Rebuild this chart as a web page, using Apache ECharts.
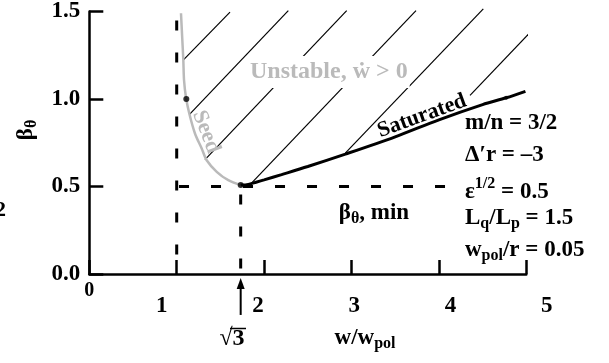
<!DOCTYPE html>
<html><head><meta charset="utf-8">
<script src="https://cdn.jsdelivr.net/npm/echarts@6/dist/echarts.min.js"></script>
<style>html,body{margin:0;padding:0;background:#fff}#c{width:609px;height:363px}</style>
</head><body><div id="c"></div>
<script>
// ---- data ----
const xTickLabels = ['1', '2', '3', '4', '5'];
const xZeroLabel = '0';
const yTicks = [0, 0.5, 1.0, 1.5];
const sqrt3 = 1.732;
const seedCurve = [[1.049,1.49],[1.062,1.36],[1.076,1.22],[1.084,1.107],[1.106,1.01],[1.144,0.917],[1.209,0.803],[1.286,0.717],[1.343,0.650],[1.458,0.584],[1.590,0.536],[1.732,0.508]];
const saturatedCurve = [[1.732,0.508],[1.82,0.512],[2.0,0.538],[2.2,0.568],[2.5,0.614],[2.93,0.685],[3.5,0.784],[4.0,0.881],[4.5,0.968],[4.77,1.007],[4.99,1.044]];
const seedDots = [[1.11,1.0],[1.732,0.508]];
const saturatedDots = [[4.77,1.007]];
const hatchSegments = [
  [[1.08,1.225],[1.610,1.496]],
  [[1.144,0.911],[2.277,1.505]],
  [[1.324,0.654],[2.945,1.505]],
  [[1.856,0.519],[3.738,1.505]],
  [[2.926,0.689],[4.508,1.515]],
  [[4.356,1.021],[5.137,1.430]]
];
const dashX1 = [[1,1.449],[1,0]];
const dashBetaMin = [[4.07,0.5],[1,0.5]];
const dashSqrt3 = [[sqrt3,0.5],[sqrt3,0]];
const arrowSqrt3 = [[sqrt3,-0.234],[sqrt3,-0.023]];
const annotations = [
  '{m|m/n = 3/2}',
  '{m|\u0394\u2032r = \u20133}',
  '{m|\u03b5}{sup|1/2}{m| = 0.5}',
  '{m|L}{sub|q}{m|/L}{sub|p}{m| = 1.5}',
  '{m|w}{sub|pol}{m|/r = 0.05}'
];

const FONT = '"Liberation Serif","DejaVu Serif",serif';
const GRAY = '#bababa';
const richStyles = {
  m:   {fontFamily: FONT, fontWeight: 'bold', fontSize: 23, lineHeight: 24, verticalAlign: 'top', fill: '#000', color:'#000'},
  sub: {fontFamily: FONT, fontWeight: 'bold', fontSize: 16, lineHeight: 16, verticalAlign: 'top', padding: [9,0,0,0], fill: '#000', color:'#000'},
  sup: {fontFamily: FONT, fontWeight: 'bold', fontSize: 16, lineHeight: 16, verticalAlign: 'top', fill: '#000', color:'#000'}
};
const richMain = Object.assign({}, richStyles, {m: Object.assign({}, richStyles.m, {padding:[5,0,0,0]})});

const chart = echarts.init(document.getElementById('c'), null, {renderer: 'canvas'});

const series = [];
hatchSegments.forEach(seg => series.push({
  type: 'line', data: seg, symbol: 'none', clip: false, silent: true, z: 1,
  lineStyle: {color: '#000', width: 1.2}
}));
const dashStyle = {color: '#000', width: 3, type: [10, 22]};
series.push({type: 'line', data: dashX1, symbol: 'none', clip: false, z: 2, lineStyle: dashStyle});
series.push({type: 'line', data: dashBetaMin, symbol: 'none', clip: false, z: 2, lineStyle: dashStyle});
series.push({type: 'line', data: dashSqrt3, symbol: 'none', clip: false, z: 2,
  lineStyle: Object.assign({}, dashStyle, {dashOffset: 24})});
series.push({type: 'line', data: seedCurve, symbol: 'none', smooth: 0.3, clip: false, z: 3,
  lineStyle: {color: GRAY, width: 2.5}});
series.push({type: 'line', data: saturatedCurve, symbol: 'none', smooth: 0.3, clip: false, z: 4,
  lineStyle: {color: '#000', width: 3}});
series.push({type: 'scatter', data: seedDots, symbolSize: 6, itemStyle: {color: '#000'}, z: 5, clip: false});
series.push({type: 'scatter', data: saturatedDots, symbolSize: 4, itemStyle: {color: '#000'}, z: 5, clip: false});

const axisLine = {show: true, lineStyle: {color: '#000', width: 2.5}};
const axisTick = {show: true, inside: true, length: 14, lineStyle: {color: '#000', width: 2.5}};
const labelFont = {fontFamily: FONT, fontWeight: 'bold', color: '#000'};

const graphic = [
  {type: 'text', x: 248, y: 72, z: 100, style: {text: 'Unstable, \u1e87 > 0', font: 'bold 24px ' + FONT, fill: GRAY,
    verticalAlign: 'middle', backgroundColor: '#fff', padding: [4, 2, 4, 2]}},
  {type: 'text', x: 206, y: 132, rotation: -69 * Math.PI / 180, z: 100, style: {text: 'Seed', font: 'bold 22px ' + FONT,
    fill: GRAY, align: 'center', verticalAlign: 'middle'}},
  {type: 'text', x: 422, y: 116, rotation: 20 * Math.PI / 180, z: 100, style: {text: 'Saturated', font: 'bold 22px ' + FONT,
    fill: '#000', align: 'center', verticalAlign: 'middle'}},
  {type: 'text', x: 374, y: 214, z: 100, style: {text: '{m|\u03b2}{sub|\u03b8}{m|, min}', rich: richStyles, align: 'center', verticalAlign: 'middle'}},
  {type: 'text', x: 365, y: 339, z: 100, style: {text: '{m|w/w}{sub|pol}', rich: richStyles, align: 'center', verticalAlign: 'middle'}},
  {type: 'text', x: 27, y: 130, rotation: Math.PI / 2, z: 100, style: {text: '{m|\u03b2}{sub|\u03b8}', rich: richStyles, align: 'center', verticalAlign: 'middle'}},
  {type: 'text', x: 232, y: 339, z: 100, style: {text: '\u221a3', font: 'bold 24px ' + FONT, fill: '#000', align: 'center', verticalAlign: 'middle'}},
  {type: 'line', z: 100, shape: {x1: 230, y1: 328.5, x2: 246, y2: 328.5}, style: {stroke: '#000', lineWidth: 1.5}},
  {type: 'text', x: -5, y: 210, z: 100, style: {text: '2', font: 'bold 22px ' + FONT, fill: '#000', align: 'left', verticalAlign: 'middle'}}
];
const annY = [124, 156, 188, 219, 251];
annotations.forEach((t, i) => graphic.push({type: 'text', x: 465, y: annY[i], z: 100,
  style: {text: t, rich: i === 2 ? richMain : richStyles, align: 'left', verticalAlign: 'middle'}}));

chart.setOption({
  animation: false,
  backgroundColor: '#fff',
  grid: [
    {left: 89.3, right: 82.7, top: 11, bottom: 89},
    {left: 65.4, right: 62.3, top: 11, bottom: 89}
  ],
  xAxis: [
    {type: 'value', gridIndex: 0, min: 0, max: 5, interval: 1, splitLine: {show: false}, axisLine, axisTick,
      axisLabel: Object.assign({fontSize: 20, margin: 7, formatter: v => v === 0 ? xZeroLabel : ''}, labelFont)},
    {type: 'value', gridIndex: 1, min: 0, max: 5, interval: 1, splitLine: {show: false}, axisLine: {show: false}, axisTick: {show: false},
      axisLabel: Object.assign({fontSize: 23, margin: 21, showMaxLabel: true, formatter: v => v >= 1 ? xTickLabels[v - 1] : ''}, labelFont)}
  ],
  yAxis: [
    {type: 'value', gridIndex: 0, min: yTicks[0], max: yTicks[yTicks.length - 1], interval: 0.5, splitLine: {show: false}, axisLine, axisTick,
      axisLabel: Object.assign({fontSize: 23, margin: 9, formatter: v => v.toFixed(1)}, labelFont)},
    {type: 'value', gridIndex: 1, min: 0, max: 1.5, show: false}
  ],
  graphic,
  series
});

// arrow pointing at sqrt(3) on the x axis, placed through the axis scales
const p0 = chart.convertToPixel({gridIndex: 0}, arrowSqrt3[0]);
const p1 = chart.convertToPixel({gridIndex: 0}, arrowSqrt3[1]);
graphic.push({type: 'line', z: 100, shape: {x1: p0[0], y1: p0[1], x2: p1[0], y2: p1[1] + 8}, style: {stroke: '#000', lineWidth: 2}});
graphic.push({type: 'polygon', z: 100, shape: {points: [[p1[0], p1[1]], [p1[0] - 4, p1[1] + 11], [p1[0] + 4, p1[1] + 11]]}, style: {fill: '#000'}});
chart.setOption({graphic});
</script></body></html>
